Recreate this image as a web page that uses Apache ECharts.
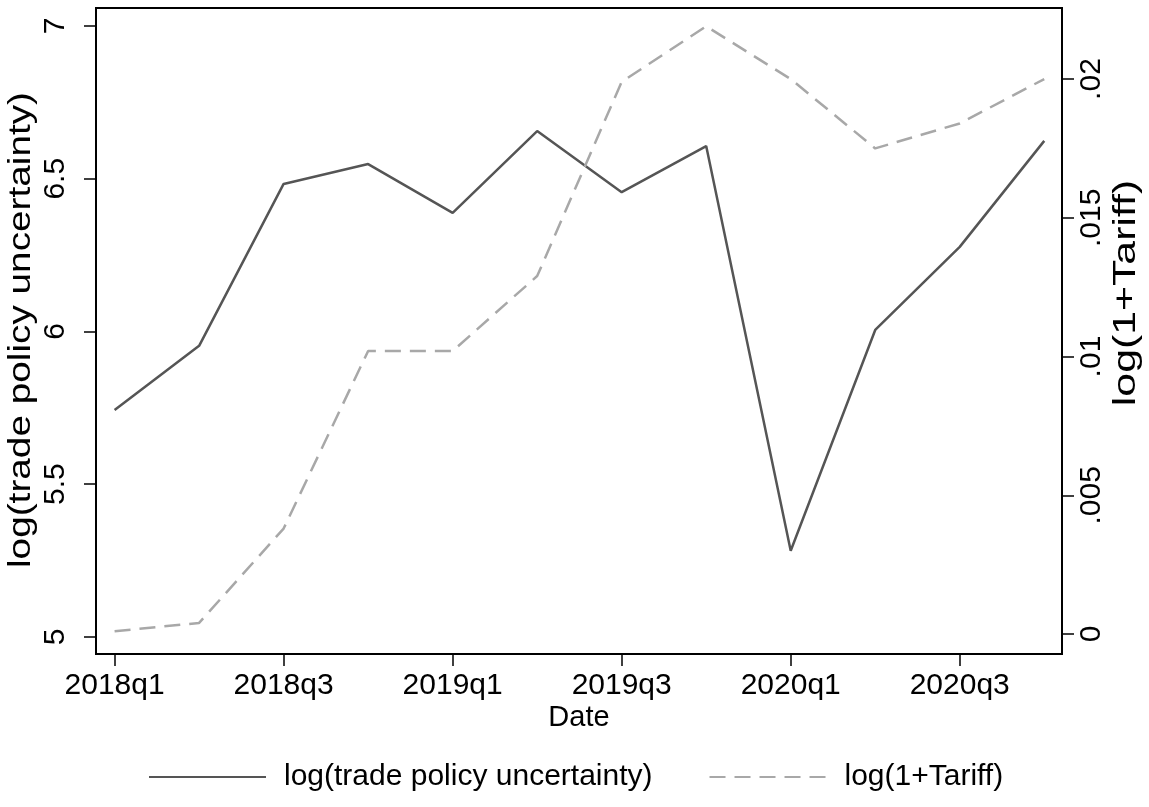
<!DOCTYPE html>
<html>
<head>
<meta charset="utf-8">
<script src="https://cdn.jsdelivr.net/npm/echarts@6/dist/echarts.min.js"></script>
<style>html,body{margin:0;padding:0;background:#fff;}#c{width:1149px;height:807px;}</style>
</head>
<body>
<div id="c"></div>
<script>
const quarters = ['2018q1','2018q2','2018q3','2018q4','2019q1','2019q2','2019q3','2019q4','2020q1','2020q2','2020q3','2020q4'];
const tpu = [5.743, 5.953, 6.483, 6.548, 6.388, 6.656, 6.456, 6.607, 5.282, 6.005, 6.277, 6.624];
const tariff = [0.0001, 0.0004, 0.0038, 0.0102, 0.0102, 0.0129, 0.0199, 0.0219, 0.0200, 0.0175, 0.0184, 0.0200];
const xTickIdx = [0, 2, 4, 6, 8, 10];
const leftTicks = [5, 5.5, 6, 6.5, 7];
const rightTicks = [0, 0.005, 0.01, 0.015, 0.02];
const rightTickLabels = ['0', '.005', '.01', '.015', '.02'];

const FONT = 'Liberation Sans, Arial, Helvetica, sans-serif';
const FS = 30;
const TS = 29;
const YT = 31;
const chart = echarts.init(document.getElementById('c'), null, {renderer: 'canvas'});
chart.setOption({
  animation: false,
  backgroundColor: '#fff',
  textStyle: {fontFamily: FONT},
  grid: {left: 96, right: 87, top: 8, bottom: 153, show: true, borderColor: '#000', borderWidth: 2, containLabel: false, outerBoundsMode: 'none'},
  xAxis: {
    type: 'value', min: -0.22, max: 11.21,
    axisLine: {show: true, onZero: false, lineStyle: {color: '#000', width: 2}},
    axisTick: {show: true, length: 12, lineStyle: {color: '#000', width: 1.5}, customValues: xTickIdx},
    axisLabel: {customValues: xTickIdx, formatter: v => quarters[Math.round(v)], fontSize: FS, color: '#000', margin: 17, fontFamily: FONT},
    splitLine: {show: false}
  },
  yAxis: [{
    type: 'value', min: 4.944, max: 7.059, position: 'left',
    axisLine: {show: true, onZero: false, lineStyle: {color: '#000', width: 2}},
    axisTick: {show: true, length: 12, lineStyle: {color: '#000', width: 1.5}, customValues: leftTicks},
    axisLabel: {customValues: leftTicks, rotate: 90, formatter: v => String(v), fontSize: FS, color: '#000', margin: 25, fontFamily: FONT},
    splitLine: {show: false}
  }, {
    type: 'value', min: -0.00072, max: 0.02256, position: 'right',
    axisLine: {show: true, onZero: false, lineStyle: {color: '#000', width: 2}},
    axisTick: {show: true, length: 12, lineStyle: {color: '#000', width: 1.5}, customValues: rightTicks},
    axisLabel: {customValues: rightTicks, rotate: 90, formatter: v => rightTickLabels[rightTicks.findIndex(t => Math.abs(t - v) < 1e-9)], fontSize: FS, color: '#000', margin: 15, fontFamily: FONT},
    splitLine: {show: false}
  }],
  graphic: [{
    type: 'text', x: 21, y: 330, rotation: Math.PI / 2, scaleX: 1.25,
    style: {text: 'log(trade policy uncertainty)', font: YT + 'px ' + FONT, fill: '#000', textAlign: 'center', textVerticalAlign: 'middle'}
  }, {
    type: 'text', x: 1126, y: 293, rotation: Math.PI / 2, scaleX: 1.38,
    style: {text: 'log(1+Tariff)', font: YT + 'px ' + FONT, fill: '#000', textAlign: 'center', textVerticalAlign: 'middle'}
  }, {
    type: 'text', x: 579, y: 718,
    style: {text: 'Date', font: TS + 'px ' + FONT, fill: '#000', textAlign: 'center', textVerticalAlign: 'middle'}
  }],
  legend: {
    top: 762, left: 148, padding: 0, itemWidth: 117, itemHeight: 14, itemGap: 56,
    itemStyle: {opacity: 0},
    textStyle: {fontSize: FS, color: '#000', fontFamily: FONT, padding: [0, 0, 0, 13]},
    data: ['log(trade policy uncertainty)', 'log(1+Tariff)']
  },
  series: [{
    name: 'log(trade policy uncertainty)', type: 'line', yAxisIndex: 0, symbol: 'none',
    lineStyle: {color: '#555555', width: 2.5}, itemStyle: {color: '#555555'},
    data: quarters.map((q, i) => [i, tpu[i]])
  }, {
    name: 'log(1+Tariff)', type: 'line', yAxisIndex: 1, symbol: 'none',
    lineStyle: {color: '#a8a8a8', width: 2.5, type: [16, 9]}, itemStyle: {color: '#a8a8a8'},
    data: quarters.map((q, i) => [i, tariff[i]])
  }]
});
</script>
</body>
</html>
